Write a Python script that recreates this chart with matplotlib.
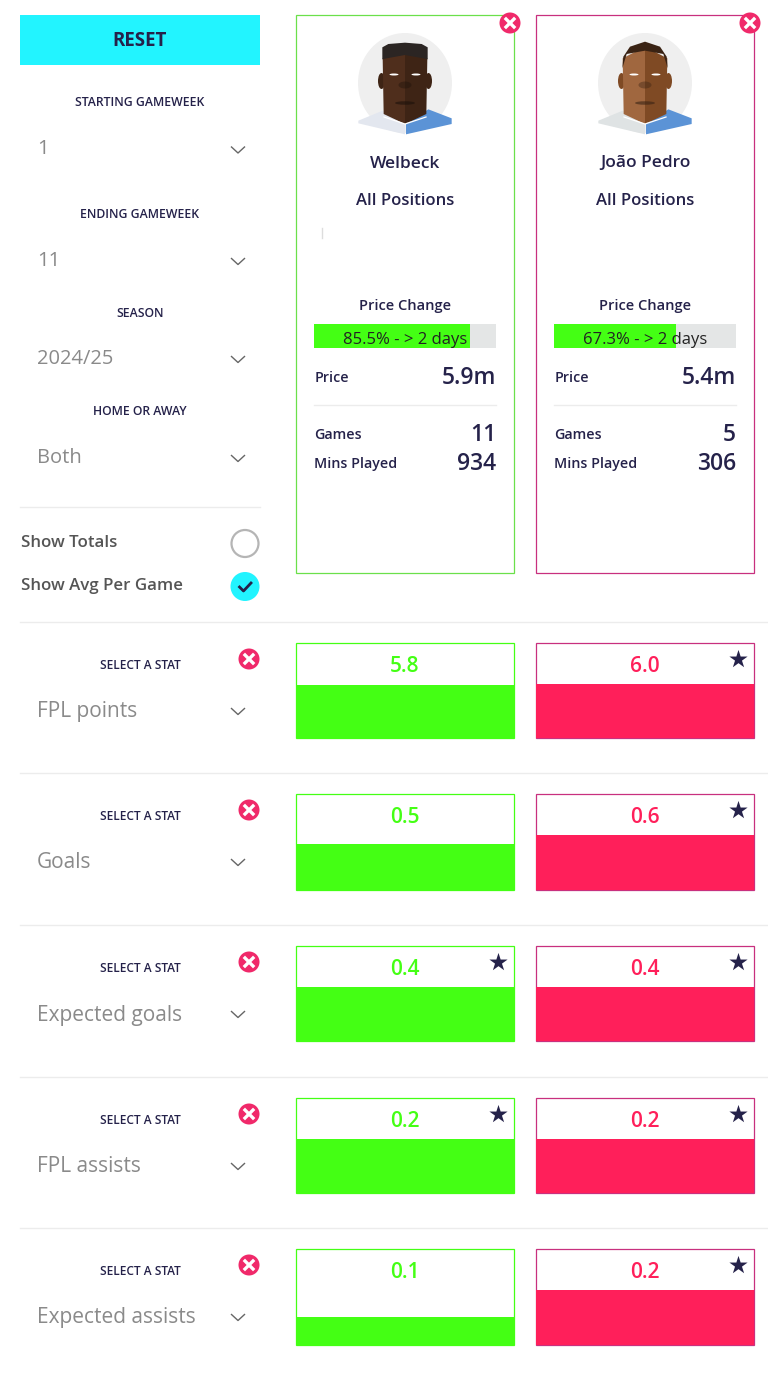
import matplotlib.pyplot as plt
from matplotlib.patches import Circle, Polygon, Ellipse

# === Configuration ===
plt.rcParams["font.family"] = ["Open Sans", "DejaVu Sans"]
navy = "#25224a"
grey_text = "#8a8a8a"
green = "#44ff14"
red = "#ff1f5a"
badge = "#f0296a"

# === Data ===
players = [
    {"name": "Welbeck", "x": 296, "border": "#6be04a", "pct": 85.5, "price": "5.9m", "games": "11", "mins": "934"},
    {"name": "João Pedro", "x": 536, "border": "#c8307f", "pct": 67.3, "price": "5.4m", "games": "5", "mins": "306"},
]
filters = [("STARTING GAMEWEEK", 102.5, "1", 149.5), ("ENDING GAMEWEEK", 214.5, "11", 261),
           ("SEASON", 313.5, "2024/25", 359), ("HOME OR AWAY", 411.5, "Both", 458)]
# stat, box top, box bottom, values, bar heights (px), stars
stats = [
    ("FPL points", 643, 738, ["5.8", "6.0"], [53, 54], [False, True]),
    ("Goals", 794, 890, ["0.5", "0.6"], [46, 55], [False, True]),
    ("Expected goals", 946, 1041, ["0.4", "0.4"], [54, 54], [True, True]),
    ("FPL assists", 1098, 1193, ["0.2", "0.2"], [54, 54], [True, True]),
    ("Expected assists", 1249, 1345, ["0.1", "0.2"], [28, 55], [False, True]),
]

plt.figure(figsize=(7.68, 13.78), dpi=100)
plt.axes([0, 0, 1, 1])
plt.xlim(0, 768)
plt.ylim(1378, 0)
plt.axis("off")
ax = plt.gca()


def close_badge(x, y):
    ax.add_patch(Circle((x, y), 10.5, fc=badge, lw=0, zorder=5))
    plt.plot([x - 4, x + 4], [y - 4, y + 4], color="white", lw=2.4, zorder=6)
    plt.plot([x - 4, x + 4], [y + 4, y - 4], color="white", lw=2.4, zorder=6)


def chevron(x, y):
    plt.plot([x - 6.5, x, x + 6.5], [y - 3, y + 3, y - 3], color="#666666", lw=1)


def face(cx, skin_l, skin_r, hair, ear, shirt_l, beard, hair_drop, hair_mid, round_top):
    # coordinates are taken from the 3x crop, centred on the player
    def pts(coords):
        return [(cx + (a - 345) / 3, b / 3) for a, b in coords]
    ax.add_patch(Ellipse((cx, 83), 94, 100, fc="#efefef", lw=0, zorder=2))
    ax.add_patch(Polygon(pts([(205, 362), (278, 332), (345, 370), (345, 403), (205, 370)]), fc=shirt_l, lw=0, zorder=3))
    ax.add_patch(Polygon(pts([(348, 372), (415, 328), (485, 355), (485, 372), (348, 403)]), fc="#5b93d6", lw=0, zorder=3))
    ax.add_patch(Ellipse((cx - 23.5, 81), 7, 16, fc=ear, lw=0, zorder=3))
    ax.add_patch(Ellipse((cx + 23.5, 81), 7, 16, fc=ear, lw=0, zorder=3))
    ax.add_patch(Polygon(pts([(278, 175), (345, 140), (345, 372), (281, 342)]), fc=skin_l, lw=0, zorder=4))
    ax.add_patch(Polygon(pts([(345, 140), (412, 175), (409, 342), (345, 372)]), fc=skin_r, lw=0, zorder=4))
    ax.add_patch(Polygon(pts(round_top + [(413, hair_drop), (400, hair_mid + 10), (345, hair_mid), (290, hair_mid + 10),
                                          (277, hair_drop)]), fc=hair, lw=0, zorder=5))
    ax.add_patch(Ellipse((cx - 11, 74.5), 9, 2, fc="white", lw=0, zorder=6))
    ax.add_patch(Ellipse((cx + 11, 74.5), 9, 2, fc="white", lw=0, zorder=6))
    ax.add_patch(Ellipse((cx, 85), 13, 7, fc=beard, alpha=0.4, lw=0, zorder=6))
    ax.add_patch(Ellipse((cx, 103), 20, 3.5, fc=beard, alpha=0.6, lw=0, zorder=6))
    plt.plot([cx - 21, cx, cx + 21], [117, 124, 117], color="white", lw=0.9, zorder=6)


# === Left panel ===
ax.add_patch(plt.Rectangle((20, 15), 240, 50, fc="#22f4ff", lw=0))
plt.text(140, 41, "RESET", ha="center", va="center", fontsize=13.5, weight="bold", color=navy)
for label, y, value, value_y in filters:
    plt.text(140, y, label, ha="center", va="center", fontsize=8.8, weight=600, color=navy)
    plt.text(37, value_y, value, ha="left", va="center", fontsize=14.5, color=grey_text)
    chevron(238, value_y + 0.5)
plt.plot([20, 260], [507, 507], color="#ececec", lw=1)
plt.text(21, 543, "Show Totals", ha="left", va="center", fontsize=12.2, weight=600, color="#555555")
plt.text(21, 586, "Show Avg Per Game", ha="left", va="center", fontsize=12.2, weight=600, color="#555555")
ax.add_patch(Circle((245, 543.5), 13.5, fc="white", ec="#b5b5b5", lw=1.6))
ax.add_patch(Circle((245, 586.5), 14.5, fc="#22f4ff", lw=0))
plt.plot([239.5, 243.5, 251], [587, 591, 583], color=navy, lw=2)

# === Player cards ===
for p in players:
    x = p["x"]
    cx = x + 109
    ax.add_patch(plt.Rectangle((x, 15), 217.5, 558, fc="white", ec=p["border"], lw=0.9))
    close_badge(x + 214, 23)
    plt.text(cx, 163.5, p["name"], ha="center", va="center", fontsize=12.5, weight=600, color=navy)
    plt.text(cx, 201, "All Positions", ha="center", va="center", fontsize=12, weight=600, color=navy)
    plt.text(cx, 306, "Price Change", ha="center", va="center", fontsize=10.5, weight=600, color=navy)
    plt.barh(336, 182, height=24, left=x + 18, color="#e4e6e6")
    plt.barh(336, 182 * p["pct"] / 100, height=24, left=x + 18, color=green)
    plt.text(cx, 340.5, f"{p['pct']}% - > 2 days", ha="center", va="center", fontsize=12, color="#222222")
    plt.text(x + 18.5, 378, "Price", ha="left", va="center", fontsize=10.3, weight=600, color=navy)
    plt.text(x + 200, 378, p["price"], ha="right", va="center", fontsize=16.5, weight=600, color=navy)
    plt.plot([x + 18, x + 200], [404.5, 404.5], color="#ececec", lw=1)
    plt.text(x + 18.5, 435, "Games", ha="left", va="center", fontsize=10.3, weight=600, color=navy)
    plt.text(x + 200, 435, p["games"], ha="right", va="center", fontsize=16.5, weight=600, color=navy)
    plt.text(x + 18.5, 464, "Mins Played", ha="left", va="center", fontsize=10.3, weight=600, color=navy)
    plt.text(x + 200, 464, p["mins"], ha="right", va="center", fontsize=16.5, weight=600, color=navy)

face(405, "#4f2e1c", "#3e2415", "#2b2523", "#3e2415", "#e3e7ef", "#1c100a", 178, 165,
     [(277, 142), (295, 132), (345, 128), (395, 132), (413, 142)])
face(645, "#a0673f", "#7f4a24", "#3a2314", "#7f4a24", "#dfe3e4", "#3a2314", 205, 152,
     [(280, 170), (300, 140), (345, 125), (390, 140), (410, 170)])
plt.plot([321.5, 321.5], [228, 238], color="#dddddd", lw=1)

# === Stat rows ===
for stat, top, bottom, values, heights, stars in stats:
    plt.plot([20, 768], [top - 21, top - 21], color="#ececec", lw=1)
    plt.text(140, top + 22.5, "SELECT A STAT", ha="center", va="center", fontsize=8.6, weight=600, color=navy)
    close_badge(249, top + 16)
    plt.text(37, top + 69, stat, ha="left", va="center", fontsize=15, color=grey_text)
    chevron(238, top + 68.5)
    for p, value, height, star, colour in zip(players, values, heights, stars, [green, red]):
        x = p["x"]
        ax.add_patch(plt.Rectangle((x, top), 217.5, bottom - top, fc="white", ec=colour if colour == green else "#c8307f", lw=0.9))
        plt.bar(x + 109, -height, width=217.5, bottom=bottom - 0.5, color=colour, zorder=3)
        plt.text(x + 109, top + 23.5, value, ha="center", va="center", fontsize=15, weight=600, color=colour)
        if star:
            plt.scatter(x + 202, top + 16, marker="*", s=190, color=navy, linewidths=0, zorder=4)

plt.savefig("out.png", dpi=100)
plt.close()
